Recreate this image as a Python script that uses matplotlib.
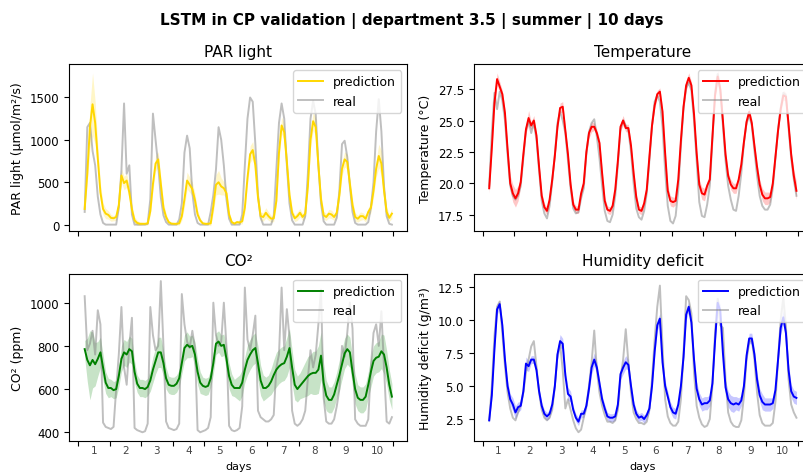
import numpy as np
import matplotlib
matplotlib.use("Agg")
import matplotlib.pyplot as plt
from matplotlib.ticker import MultipleLocator, FixedLocator, FixedFormatter

# time axis: hours since start (2-hour samples)
hours = np.arange(5, 240, 2)
day_labels = ["1", "2", "3", "4", "5", "6", "7", "8", "9", "10"]

# ---------------- PAR light ----------------
par_pred = [
    185, 600, 1150, 1420, 1200, 780, 380, 185, 130, 115,
    80, 75, 90, 230, 580, 490, 520, 380, 180, 50, 20, 10,
    10, 10, 15, 160, 480, 720, 770, 480, 200, 90, 30, 12,
    10, 10, 15, 100, 300, 520, 470, 420, 290, 120, 50, 15,
    10, 10, 15, 220, 470, 500, 450, 430, 370, 120, 30, 12,
    30, 25, 40, 200, 550, 830, 880, 700, 320, 100, 90, 140,
    100, 70, 75, 280, 850, 1170, 1090, 740, 350, 140, 75, 100,
    140, 90, 130, 450, 1000, 1220, 1150, 700, 300, 110, 90, 130,
    120, 90, 140, 350, 660, 770, 740, 480, 230, 90, 70, 100,
    100, 70, 150, 200, 400, 660, 810, 720, 400, 150, 80, 130,
]
par_real = [
    150, 1150, 1200, 870, 700, 330, 120, 20, 0, 0,
    0, 0, 0, 200, 640, 1430, 600, 700, 120, 0, 0, 0,
    0, 0, 10, 300, 1310, 1000, 700, 320, 110, 30, 0, 0,
    0, 0, 60, 250, 850, 1050, 900, 380, 120, 20, 0, 0,
    0, 0, 150, 350, 650, 1150, 1000, 700, 300, 70, 0, 0,
    0, 0, 120, 700, 1250, 1500, 1450, 950, 350, 80, 0, 0,
    0, 0, 100, 650, 1200, 1430, 1250, 700, 250, 50, 0, 0,
    0, 0, 100, 600, 1250, 1460, 1300, 700, 250, 40, 0, 0,
    0, 0, 80, 400, 950, 990, 800, 450, 150, 20, 0, 0,
    0, 0, 30, 200, 500, 1100, 1480, 1100, 450, 100, 10, 0,
]
par_band = [
    60, 100, 250, 370, 250, 150, 100, 70, 60, 50,
    40, 30, 40, 60, 80, 80, 80, 80, 60, 40, 30, 20,
    15, 15, 20, 50, 80, 90, 90, 80, 60, 40, 20, 15,
    15, 15, 20, 50, 90, 100, 90, 80, 80, 50, 30, 15,
    15, 15, 30, 80, 120, 140, 100, 80, 70, 40, 20, 15,
    20, 20, 30, 60, 80, 100, 100, 90, 70, 50, 50, 60,
    50, 40, 40, 60, 80, 100, 100, 90, 70, 50, 40, 50,
    50, 40, 50, 70, 100, 110, 100, 90, 70, 50, 40, 50,
    50, 40, 50, 70, 80, 90, 90, 80, 70, 50, 40, 50,
    40, 40, 50, 60, 80, 100, 140, 150, 100, 60, 40, 60,
]

# ---------------- Temperature ----------------
temp_pred = [
    19.6, 22.8, 26.4, 28.3, 27.7, 27.1, 25.6, 22.7, 20.0, 19.2,
    18.8, 19.2, 20.1, 22.3, 24.3, 25.2, 24.6, 25.0, 23.8, 21.3, 19.0, 18.1,
    17.8, 18.7, 20.3, 22.2, 24.5, 26.0, 26.1, 24.2, 22.3, 19.9, 18.3, 17.9,
    17.9, 19.2, 20.0, 22.5, 24.0, 24.5, 24.5, 24.0, 23.2, 20.8, 18.6, 17.9,
    17.8, 18.2, 19.5, 21.8, 24.5, 25.0, 24.4, 24.4, 23.0, 20.8, 18.9, 17.9,
    17.8, 18.4, 19.5, 22.1, 24.6, 26.2, 27.1, 27.3, 25.7, 22.4, 19.4, 18.6,
    18.5, 18.6, 20.3, 23.4, 26.1, 27.8, 28.4, 27.8, 25.5, 22.4, 19.9, 19.2,
    19.1, 19.8, 20.3, 23.7, 27.0, 28.5, 27.5, 25.0, 22.3, 20.6, 19.9, 19.6,
    19.6, 20.3, 21.5, 23.3, 24.9, 25.7, 24.8, 23.0, 21.3, 19.9, 19.1, 18.8,
    18.8, 18.9, 20.0, 22.1, 24.2, 25.9, 27.0, 26.9, 24.7, 22.3, 20.6, 19.4,
]
temp_real = [
    19.8, 24.0, 27.2, 25.9, 27.3, 26.6, 25.0, 22.3, 19.8, 19.0,
    18.7, 19.0, 19.8, 22.0, 24.2, 25.0, 24.0, 24.8, 23.5, 21.0, 18.6, 17.6,
    17.2, 18.2, 20.1, 22.3, 24.8, 25.7, 25.0, 24.0, 21.8, 19.6, 18.0, 17.6,
    17.7, 18.8, 19.6, 22.3, 24.1, 24.8, 25.1, 23.7, 22.0, 19.8, 17.8, 17.0,
    16.9, 17.5, 19.0, 21.5, 24.3, 25.0, 24.6, 24.2, 22.5, 20.0, 18.0, 17.3,
    17.1, 17.8, 19.2, 21.8, 24.6, 26.5, 27.0, 26.5, 24.5, 21.0, 18.2, 17.0,
    16.8, 17.4, 19.5, 23.0, 26.0, 27.6, 28.0, 27.4, 25.0, 21.8, 18.5, 17.4,
    17.3, 18.3, 19.8, 23.4, 27.2, 28.7, 27.4, 24.6, 21.8, 19.8, 18.7, 17.9,
    17.8, 19.0, 20.8, 23.2, 24.8, 25.4, 24.6, 22.6, 20.6, 19.0, 18.2, 17.9,
    17.9, 18.3, 19.6, 22.0, 24.3, 26.0, 27.2, 27.0, 24.4, 22.0, 20.3, 19.0,
]
temp_band = [
    0.4, 0.3, 0.3, 0.5, 0.4, 0.3, 0.3, 0.4, 0.6, 0.7,
    0.7, 0.6, 0.4, 0.3, 0.3, 0.6, 0.3, 0.4, 0.3, 0.3, 0.3, 0.3,
    0.3, 0.3, 0.3, 0.3, 0.3, 0.4, 0.4, 0.3, 0.3, 0.3, 0.3, 0.3,
    0.3, 0.3, 0.3, 0.3, 0.4, 0.4, 0.3, 0.3, 0.3, 0.3, 0.3, 0.3,
    0.3, 0.3, 0.3, 0.3, 0.3, 0.4, 0.3, 0.3, 0.3, 0.3, 0.3, 0.3,
    0.3, 0.3, 0.3, 0.3, 0.3, 0.3, 0.3, 0.3, 0.3, 0.3, 0.4, 0.4,
    0.4, 0.3, 0.3, 0.3, 0.3, 0.4, 0.4, 0.3, 0.3, 0.3, 0.4, 0.5,
    0.5, 0.4, 0.3, 0.3, 0.3, 0.5, 0.4, 0.3, 0.3, 0.3, 0.4, 0.4,
    0.4, 0.3, 0.3, 0.3, 0.3, 0.3, 0.3, 0.3, 0.3, 0.4, 0.5, 0.5,
    0.5, 0.4, 0.3, 0.3, 0.3, 0.3, 0.4, 0.3, 0.3, 0.3, 0.5, 0.7,
]

# ---------------- CO2 ----------------
co2_pred = [
    785, 735, 710, 735, 715, 740, 770, 700, 630, 605,
    605, 595, 600, 660, 740, 770, 760, 785, 775, 680, 625, 605,
    605, 600, 610, 640, 690, 730, 770, 770, 720, 650, 620, 615,
    615, 625, 650, 720, 790, 805, 795, 800, 760, 680, 630, 615,
    610, 615, 650, 720, 810, 820, 800, 805, 740, 660, 620, 605,
    605, 605, 630, 690, 735, 760, 780, 790, 720, 640, 605, 605,
    615, 635, 665, 690, 705, 715, 720, 750, 790, 700, 620, 600,
    615, 630, 645, 660, 670, 675, 675, 690, 755, 630, 570, 550,
    550, 575, 620, 665, 715, 765, 785, 770, 680, 600, 560, 550,
    550, 565, 620, 680, 730, 745, 750, 775, 760, 700, 620, 565,
]
co2_real = [
    1030, 780, 810, 870, 760, 965, 900, 445, 425, 420,
    415, 425, 600, 760, 980, 700, 620, 800, 930, 420, 410, 405,
    400, 405, 440, 980, 850, 780, 800, 1100, 800, 450, 420, 415,
    410, 415, 440, 1040, 900, 820, 790, 870, 790, 410, 400, 405,
    410, 420, 470, 1000, 850, 800, 820, 1000, 800, 430, 410, 405,
    410, 420, 520, 1070, 830, 780, 850, 940, 500, 470, 460, 450,
    450, 460, 480, 700, 760, 1070, 780, 970, 840, 500, 440, 430,
    440, 460, 500, 650, 780, 700, 760, 900, 1060, 560, 450, 440,
    440, 460, 520, 600, 800, 750, 860, 1000, 880, 460, 440, 430,
    430, 430, 460, 700, 860, 900, 800, 960, 700, 450, 440, 470,
]
co2_band = [
    40, 100, 160, 130, 100, 80, 70, 60, 50, 45,
    40, 40, 40, 50, 60, 60, 60, 60, 60, 50, 40, 40,
    40, 40, 40, 50, 60, 60, 70, 70, 60, 50, 40, 40,
    40, 40, 40, 50, 60, 60, 50, 50, 60, 60, 50, 40,
    40, 40, 40, 50, 50, 50, 50, 50, 60, 60, 50, 40,
    50, 60, 60, 60, 70, 70, 70, 70, 80, 70, 60, 50,
    50, 60, 70, 80, 80, 80, 80, 90, 90, 80, 70, 60,
    60, 70, 80, 90, 90, 100, 100, 110, 110, 90, 70, 60,
    60, 60, 60, 70, 70, 70, 70, 70, 70, 70, 60, 60,
    60, 60, 60, 70, 70, 70, 70, 80, 90, 80, 70, 60,
]

# ---------------- Humidity deficit ----------------
hum_pred = [
    2.4, 4.3, 7.8, 10.8, 11.2, 9.6, 7.0, 5.0, 4.0, 3.6,
    3.0, 3.4, 3.5, 4.6, 6.7, 6.5, 7.0, 7.0, 6.2, 4.6, 3.5, 2.9,
    2.7, 2.9, 3.6, 5.0, 7.4, 8.4, 8.2, 5.8, 4.4, 4.2, 3.2, 2.6,
    2.3, 2.9, 2.9, 3.5, 4.8, 6.4, 7.0, 6.4, 5.2, 4.0, 3.3, 2.7,
    2.6, 2.6, 2.7, 3.6, 5.9, 6.4, 6.8, 6.6, 5.0, 3.6, 2.9, 2.6,
    2.7, 2.5, 2.8, 3.3, 5.0, 7.6, 9.6, 10.1, 6.8, 5.0, 4.2, 3.4,
    3.0, 2.9, 3.6, 5.0, 7.2, 10.4, 11.0, 9.8, 7.0, 4.8, 4.0, 3.6,
    3.7, 3.7, 3.9, 5.2, 8.4, 11.3, 10.7, 7.5, 4.9, 4.0, 3.7, 3.6,
    3.7, 3.6, 3.9, 5.0, 7.3, 8.6, 8.6, 7.4, 5.5, 4.3, 3.8, 3.6,
    3.6, 3.6, 3.7, 4.7, 7.0, 9.4, 10.2, 9.0, 6.2, 4.6, 4.2, 4.1,
]
hum_real = [
    2.4, 5.0, 8.8, 11.0, 11.4, 9.0, 6.5, 4.5, 3.3, 2.6,
    2.4, 3.0, 3.6, 4.5, 6.0, 7.0, 8.0, 8.4, 6.5, 4.5, 3.2, 2.6,
    2.4, 2.6, 3.2, 5.0, 7.3, 8.2, 6.2, 3.3, 4.0, 3.2, 2.4, 1.8,
    1.5, 1.7, 2.6, 3.5, 5.0, 6.8, 9.2, 6.2, 4.5, 3.5, 2.8, 2.3,
    2.3, 2.2, 2.4, 3.2, 5.6, 7.0, 9.3, 6.8, 4.5, 3.0, 2.5, 2.2,
    2.2, 2.1, 2.3, 3.2, 5.5, 8.5, 11.0, 12.6, 8.0, 4.0, 2.7, 2.2,
    2.0, 2.0, 2.3, 4.0, 7.5, 11.8, 11.5, 10.5, 6.0, 3.5, 2.6, 2.1,
    1.9, 2.0, 2.5, 5.0, 9.0, 11.6, 9.6, 9.4, 5.5, 3.0, 2.3, 2.0,
    1.9, 1.9, 2.4, 4.2, 7.0, 8.3, 8.5, 7.0, 4.5, 2.8, 2.2, 2.0,
    2.0, 2.0, 2.2, 3.8, 7.0, 10.0, 11.7, 9.5, 5.5, 3.6, 3.0, 2.6,
]
hum_band = [
    0.2, 0.3, 0.3, 0.4, 0.3, 0.3, 0.3, 0.4, 0.4, 0.5,
    0.5, 0.4, 0.3, 0.3, 0.5, 0.4, 0.3, 0.3, 0.3, 0.3, 0.3, 0.3,
    0.3, 0.3, 0.3, 0.3, 0.4, 0.5, 0.4, 0.4, 0.5, 0.4, 0.3, 0.3,
    0.3, 0.3, 0.3, 0.3, 0.4, 0.5, 0.5, 0.4, 0.3, 0.3, 0.3, 0.3,
    0.3, 0.3, 0.3, 0.3, 0.4, 0.5, 0.5, 0.4, 0.3, 0.3, 0.3, 0.3,
    0.3, 0.3, 0.3, 0.3, 0.4, 0.4, 0.4, 0.4, 0.4, 0.4, 0.4, 0.4,
    0.4, 0.4, 0.3, 0.3, 0.4, 0.4, 0.4, 0.4, 0.4, 0.5, 0.5, 0.5,
    0.5, 0.5, 0.4, 0.3, 0.4, 0.4, 0.4, 0.5, 0.5, 0.6, 0.6, 0.6,
    0.5, 0.5, 0.4, 0.3, 0.4, 0.4, 0.4, 0.4, 0.5, 0.5, 0.6, 0.5,
    0.5, 0.5, 0.4, 0.3, 0.4, 0.5, 0.5, 0.5, 0.5, 0.5, 0.5, 0.5,
]

panels = [
    ("PAR light", "PAR light (µmol/m²/s)", par_pred, par_real, par_band, "gold", (-75, 1895), 500),
    ("Temperature", "Temperature (°C)", temp_pred, temp_real, temp_band, "red", (16.2, 29.5), 2.5),
    ("CO²", "CO² (ppm)", co2_pred, co2_real, co2_band, "green", (361, 1134), 200),
    ("Humidity deficit", "Humidity deficit (g/m³)", hum_pred, hum_real, hum_band, "blue", (0.86, 13.5), 2.5),
]

fig, axes = plt.subplots(2, 2, figsize=(8.04, 4.77), dpi=100, sharex=True)
fig.subplots_adjust(left=0.0862, right=1.0097, top=0.8637, bottom=0.074,
                    wspace=0.197, hspace=0.256)

for ax, (title, ylabel, pred, real, band, color, ylim, ystep) in zip(axes.flat, panels):
    pred = np.asarray(pred, dtype=float)
    band = np.asarray(band, dtype=float)
    ax.plot(hours, pred, color=color, lw=1.4, label="prediction", zorder=3)
    ax.fill_between(hours, pred - band, pred + band, color=color, alpha=0.22, lw=0, zorder=2)
    ax.plot(hours, real, color="grey", alpha=0.5, lw=1.4, label="real", zorder=2.5)
    ax.set_title(title, fontsize=11)
    ax.set_ylabel(ylabel, fontsize=9)
    ax.set_ylim(*ylim)
    ax.yaxis.set_major_locator(MultipleLocator(ystep))
    ax.tick_params(axis="y", labelsize=8.5)
    ax.legend(loc="upper right", fontsize=9)

for ax in axes.flat:
    ax.set_xlim(-6.7, 250.7)
    ax.xaxis.set_major_locator(FixedLocator(list(range(0, 241, 24))))
    ax.xaxis.set_major_formatter(FixedFormatter([""] * 11))
    ax.xaxis.set_minor_locator(FixedLocator(list(range(12, 240, 24))))
    ax.xaxis.set_minor_formatter(FixedFormatter(day_labels))
    ax.tick_params(axis="x", which="minor", length=0, labelsize=7.5, labelcolor="#444444")

for ax in axes[0]:
    ax.tick_params(axis="x", which="both", labelbottom=False)
for ax in axes[1]:
    ax.set_xlabel("days", fontsize=8)

fig.suptitle("LSTM in CP validation | department 3.5 | summer | 10 days",
             fontsize=11, fontweight="bold", x=0.512, y=0.972)

fig.savefig("out.png", dpi=100)
